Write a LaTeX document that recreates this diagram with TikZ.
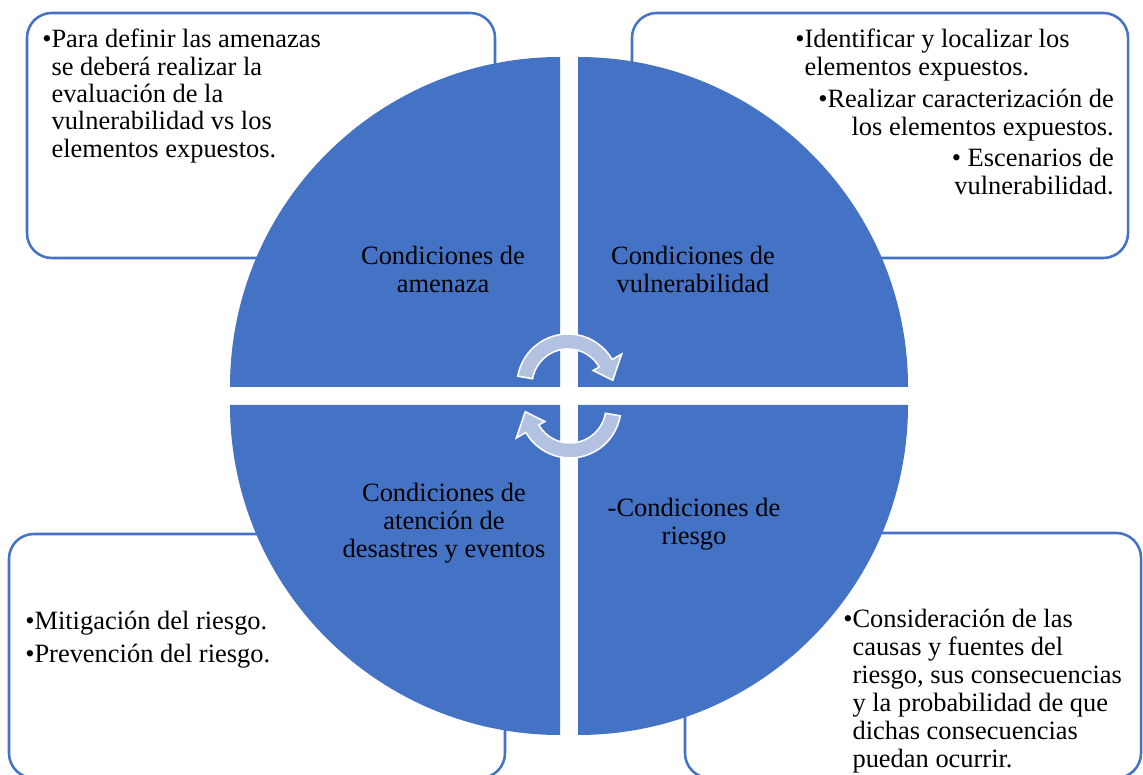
\documentclass[tikz,border=0pt]{standalone}
\usepackage{fontspec}
\setmainfont{Liberation Serif}
\usetikzlibrary{positioning, calc}
\definecolor{quadblue}{RGB}{68,114,196}
\definecolor{arrowblue}{RGB}{180,194,226}
\tikzset{quadrant/.style={fill=quadblue}}
\tikzset{infobox/.style={draw=quadblue, line width=1.8pt, rounded corners=0.62cm, fill=white}}
\tikzset{boxtext/.style={inner sep=0pt, font=\fontsize{18.8}{19.4}\selectfont}}
\tikzset{quadtext/.style={inner sep=0pt, font=\fontsize{18.8}{19.8}\selectfont}}
\tikzset{cyclearrow/.style={fill=arrowblue, draw=white, line width=1.1pt, line join=miter}}
\begin{document}
\begin{tikzpicture}[x=0.025cm, y=0.025cm]

      \useasboundingbox (0,0) rectangle (1143,775);
      \clip (0,0) rectangle (1143,775);

      % BOXES

      \draw[infobox] (27,517) rectangle (495,762);
      \draw[infobox] (632,517) rectangle (1128,762);
      \draw[infobox] (9,-3) rectangle (505,241);
      \draw[infobox] (685,-3) rectangle (1141,242);

      % QUADRANTS

      \coordinate (ctr) at (569,379);
      \fill[quadrant] (560,388) -- ++(-330,0) arc[start angle=180, end angle=90, radius=330] -- cycle;
      \fill[quadrant] (578,388) -- ++(0,330) arc[start angle=90, end angle=0, radius=330] -- cycle;
      \fill[quadrant] (560,370) -- ++(0,-330) arc[start angle=270, end angle=180, radius=330] -- cycle;
      \fill[quadrant] (578,370) -- ++(330,0) arc[start angle=0, end angle=-90, radius=330] -- cycle;

      % LABELS

      \node[quadtext, anchor=base] (lblamenaza) at (443,510)
        {\begin{tabular}[t]{@{}c@{}}Condiciones de\\amenaza\end{tabular}};
      \node[quadtext, anchor=base] (lblvuln) at (693,510)
        {\begin{tabular}[t]{@{}c@{}}Condiciones de\\vulnerabilidad\end{tabular}};
      \node[quadtext, anchor=base] (lblatencion) at (444,273)
        {\begin{tabular}[t]{@{}c@{}}Condiciones de\\atención de\\desastres y eventos\end{tabular}};
      \node[quadtext, anchor=base] (lblriesgo) at (694,258)
        {\begin{tabular}[t]{@{}c@{}}-Condiciones de\\riesgo\end{tabular}};

      % ARROWS

      \foreach \rot in {0,180} {
        \begin{scope}[rotate around={\rot:(ctr)}, shift={(568,390)}]
          \draw[cyclearrow] (170:51) arc[start angle=170, end angle=30, radius=51]
            -- (30:62) -- (6:45) -- (30:29) -- (30:36)
            arc[start angle=30, end angle=170, radius=36] -- cycle;
        \end{scope}
      }

      % TEXTS

      \node[boxtext, anchor=base west] (txtamenaza) at (42,727) {\textbullet\begin{tabular}[t]{@{}l@{}}
          Para definir las amenazas\\
          se deberá realizar la\\
          evaluación de la\\
          vulnerabilidad vs los\\
          elementos expuestos.
        \end{tabular}};

      \node[boxtext, anchor=base west] (txtvulna) at (795,727) {\textbullet\begin{tabular}[t]{@{}l@{}}
          Identificar y localizar los\\
          elementos expuestos.
        \end{tabular}};
      \node[boxtext, anchor=base east] (txtvulnb) at (1114,667) {\begin{tabular}[t]{@{}r@{}}
          \textbullet Realizar caracterización de\\
          los elementos expuestos.
        \end{tabular}};
      \node[boxtext, anchor=base east] (txtvulnc) at (1114,608) {\begin{tabular}[t]{@{}r@{}}
          \textbullet\ Escenarios de\\
          vulnerabilidad.
        \end{tabular}};

      \node[boxtext, anchor=base west] (txtatencion) at (25,145) {\begin{tabular}[t]{@{}l@{}}
          \textbullet Mitigación del riesgo.\\[4pt]
          \textbullet Prevención del riesgo.
        \end{tabular}};

      \node[boxtext, anchor=base west, font=\fontsize{18.8}{19.8}\selectfont] (txtriesgo) at (843,147) {\textbullet\begin{tabular}[t]{@{}l@{}}
          Consideración de las\\
          causas y fuentes del\\
          riesgo, sus consecuencias\\
          y la probabilidad de que\\
          dichas consecuencias\\
          puedan ocurrir.
        \end{tabular}};
    \end{tikzpicture}
\end{document}
